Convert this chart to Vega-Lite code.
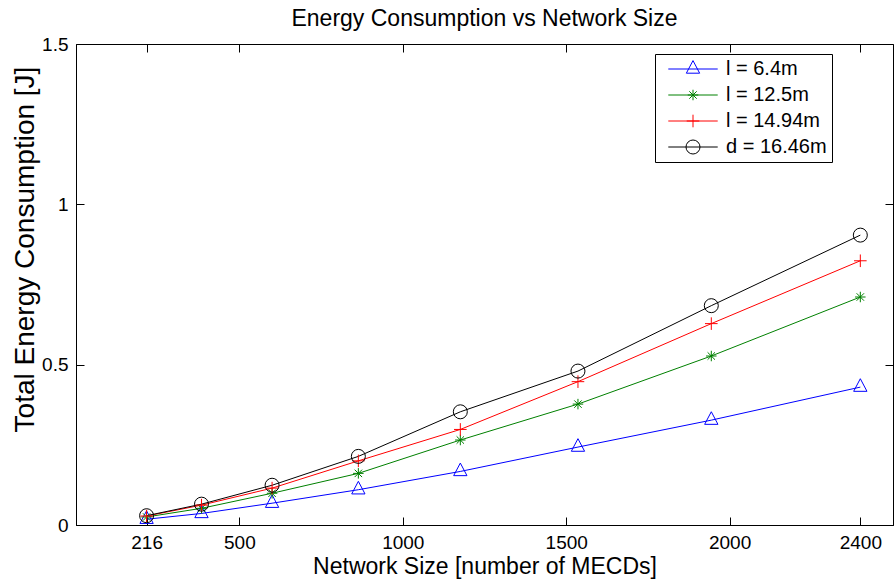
{
  "$schema": "https://vega.github.io/schema/vega-lite/v6.json",
  "width": 817,
  "height": 481,
  "autosize": {"type": "none"},
  "padding": {"left": 76, "top": 44, "right": 3, "bottom": 56},
  "background": "white",
  "title": {"text": "Energy Consumption vs Network Size", "font": "Liberation Sans", "fontSize": 23, "fontWeight": "normal", "color": "black", "anchor": "middle", "baseline": "alphabetic", "offset": -14},
  "config": {
    "view": {"stroke": "black", "strokeWidth": 1},
    "font": "Liberation Sans",
    "axis": {"grid": false, "domainColor": "black", "tickColor": "black", "labelColor": "black", "titleColor": "black", "labelFont": "Liberation Sans", "titleFont": "Liberation Sans", "titleFontWeight": "normal", "tickWidth": 1, "domainWidth": 1},
    "legend": {"orient": "none", "legendX": 579, "legendY": 10, "padding": 5, "labelFontSize": 20, "labelFont": "Liberation Sans", "labelColor": "black", "symbolSize": 196, "symbolStrokeWidth": 1, "symbolOffset": 23, "labelOffset": 19, "rowPadding": 6, "cornerRadius": 0}
  },
  "data": {"values": [
    {"series": "l = 6.4m", "size": 216, "energy": 0.018},
    {"series": "l = 6.4m", "size": 384, "energy": 0.036},
    {"series": "l = 6.4m", "size": 600, "energy": 0.068},
    {"series": "l = 6.4m", "size": 864, "energy": 0.110},
    {"series": "l = 6.4m", "size": 1176, "energy": 0.167},
    {"series": "l = 6.4m", "size": 1536, "energy": 0.243},
    {"series": "l = 6.4m", "size": 1944, "energy": 0.327},
    {"series": "l = 6.4m", "size": 2400, "energy": 0.430},
    {"series": "l = 12.5m", "size": 216, "energy": 0.025},
    {"series": "l = 12.5m", "size": 384, "energy": 0.052},
    {"series": "l = 12.5m", "size": 600, "energy": 0.099},
    {"series": "l = 12.5m", "size": 864, "energy": 0.161},
    {"series": "l = 12.5m", "size": 1176, "energy": 0.265},
    {"series": "l = 12.5m", "size": 1536, "energy": 0.377},
    {"series": "l = 12.5m", "size": 1944, "energy": 0.527},
    {"series": "l = 12.5m", "size": 2400, "energy": 0.711},
    {"series": "l = 14.94m", "size": 216, "energy": 0.028},
    {"series": "l = 14.94m", "size": 384, "energy": 0.062},
    {"series": "l = 14.94m", "size": 600, "energy": 0.115},
    {"series": "l = 14.94m", "size": 864, "energy": 0.200},
    {"series": "l = 14.94m", "size": 1176, "energy": 0.298},
    {"series": "l = 14.94m", "size": 1536, "energy": 0.447},
    {"series": "l = 14.94m", "size": 1944, "energy": 0.628},
    {"series": "l = 14.94m", "size": 2400, "energy": 0.824},
    {"series": "d = 16.46m", "size": 216, "energy": 0.029},
    {"series": "d = 16.46m", "size": 384, "energy": 0.065},
    {"series": "d = 16.46m", "size": 600, "energy": 0.124},
    {"series": "d = 16.46m", "size": 864, "energy": 0.214},
    {"series": "d = 16.46m", "size": 1176, "energy": 0.353},
    {"series": "d = 16.46m", "size": 1536, "energy": 0.480},
    {"series": "d = 16.46m", "size": 1944, "energy": 0.684},
    {"series": "d = 16.46m", "size": 2400, "energy": 0.904}
  ]},
  "layer": [
    {
      "mark": {"type": "line", "strokeWidth": 1},
      "encoding": {
        "x": {"field": "size", "type": "quantitative", "scale": {"domain": [0, 2500], "nice": false},
          "axis": {"orient": "bottom", "values": [216, 500, 1000, 1500, 2000, 2400], "format": "d", "title": "Network Size [number of MECDs]", "titleFontSize": 23, "labelFontSize": 19, "tickSize": -8, "labelPadding": 16, "titleBaseline": "alphabetic", "titleY": 48, "labelFlush": false, "labelOverlap": false}},
        "y": {"field": "energy", "type": "quantitative", "scale": {"domain": [0, 1.5], "nice": false},
          "axis": {"orient": "left", "values": [0, 0.5, 1, 1.5], "format": "~g", "title": "Total Energy Consumption [J]", "titleFontSize": 28, "labelFontSize": 19, "tickSize": -8, "labelPadding": 16, "titleBaseline": "alphabetic", "titleX": -43, "titleY": 205, "titleAngle": 270, "labelFlush": false, "labelOverlap": false}},
        "color": {"field": "series", "type": "nominal", "title": null, "scale": {"domain": ["l = 6.4m", "l = 12.5m", "l = 14.94m", "d = 16.46m"], "range": ["#0000ff", "#008000", "#ff0000", "#000000"]},
          "legend": {"symbolType": "M-3.53,0H3.53", "strokeColor": "black", "labelOffset": 23, "zindex": 1}}
      }
    },
    {
      "mark": {"type": "point", "filled": false, "size": 196, "strokeWidth": 1, "opacity": 1},
      "encoding": {
        "x": {"field": "size", "type": "quantitative", "scale": {"domain": [0, 2500], "nice": false},
          "axis": {"orient": "top", "values": [216, 500, 1000, 1500, 2000, 2400], "labels": false, "title": null, "tickSize": -8, "domain": false}},
        "y": {"field": "energy", "type": "quantitative", "scale": {"domain": [0, 1.5], "nice": false},
          "axis": {"orient": "right", "values": [0, 0.5, 1, 1.5], "labels": false, "title": null, "tickSize": -8, "domain": false}},
        "stroke": {"field": "series", "type": "nominal", "title": null, "sort": null, "scale": {"range": ["#0000ff", "#008000", "#ff0000", "#000000"]},
          "legend": {"labelOpacity": 0, "zindex": 2}},
        "shape": {"field": "series", "type": "nominal", "title": null, "sort": null, "scale": {"range": ["M0,-1.2L0.95,0.6H-0.95Z", "M-0.75,0H0.75M0,-0.75V0.75M-0.53,-0.53L0.53,0.53M-0.53,0.53L0.53,-0.53", "M-0.9,0H0.9M0,-0.9V0.9", "circle"]},
          "legend": {"labelOpacity": 0, "zindex": 2}}
      }
    }
  ],
  "resolve": {"axis": {"x": "independent", "y": "independent"}}
}
